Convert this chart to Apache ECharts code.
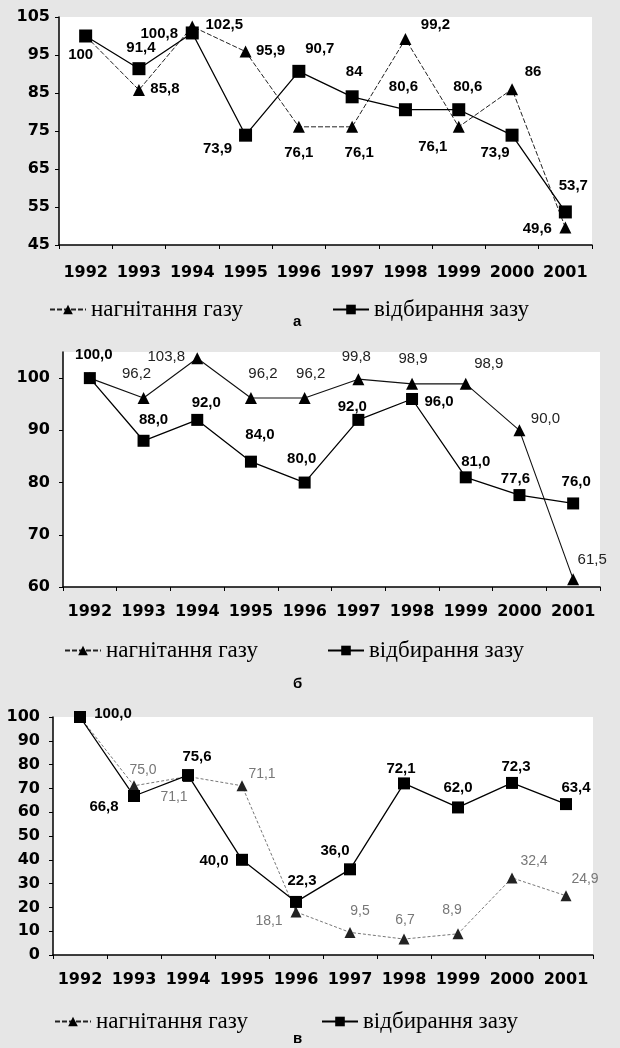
<!DOCTYPE html>
<html>
<head>
<meta charset="utf-8">
<script src="https://cdn.jsdelivr.net/npm/echarts@6/dist/echarts.min.js"></script>
<style>
html, body { margin: 0; padding: 0; background: #e6e6e6; }
#chart { width: 620px; height: 1048px; }
</style>
</head>
<body>
<div id="chart"></div>
<script>
const years = ['1992', '1993', '1994', '1995', '1996', '1997', '1998', '1999', '2000', '2001'];

// а
const injectA = [100, 85.8, 102.5, 95.9, 76.1, 76.1, 99.2, 76.1, 86, 49.6];
const withdrawA = [100, 91.4, 100.8, 73.9, 90.7, 84, 80.6, 80.6, 73.9, 53.7];
// б
const injectB = [100, 96.2, 103.8, 96.2, 96.2, 99.8, 98.9, 98.9, 90.0, 61.5];
const withdrawB = [100, 88.0, 92.0, 84.0, 80.0, 92.0, 96.0, 81.0, 77.6, 76.0];
// в
const injectC = [100, 71.1, 75.0, 71.1, 18.1, 9.5, 6.7, 8.9, 32.4, 24.9];
const withdrawC = [100, 66.8, 75.6, 40.0, 22.3, 36.0, 72.1, 62.0, 72.3, 63.4];

const yTicksA = [45, 55, 65, 75, 85, 95, 105];
const yTicksB = [60, 70, 80, 90, 100];
const yTicksC = [0, 10, 20, 30, 40, 50, 60, 70, 80, 90, 100];

const INJECT = 'нагнітання газу';
const WITHDRAW = 'відбирання зазу';

// where each value label sits relative to its point (null = no label)
const offInjectA = [null, [26, -1], [32, -2], [25, -1], [0, 26], [7, 26], [30, -14], [-26, 20], [21, -17], [-28, 1]];
const offWithdrawA = [[-5, 19], [2, -21], [-33, 1], [-28, 14], [21, -22], [2, -25], [-2, -23], [9, -23], [-17, 18], [8, -26]];
const offInjectB = [null, [-7, -24], [-31, -1], [12, -24], [6, -24], [-2, -22], [1, -25], [23, -20], [26, -11], [19, -19]];
const offWithdrawB = [[4, -23], [10, -21], [9, -17], [9, -27], [-3, -24], [-6, -13], [27, 3], [10, -15], [-4, -16], [3, -22]];
const offInjectC = [null, [40, 11], [-45, -6], [20, -12], [-27, 9], [10, -21], [1, -19], [-6, -24], [22, -17], [19, -17]];
const offWithdrawC = [[33, -3], [-30, 11], [9, -18], [-28, 1], [6, -21], [-15, -18], [-3, -15], [0, -20], [4, -16], [10, -16]];

const plain = (v) => String(v).replace('.', ',');
const oneDec = (v) => v.toFixed(1).replace('.', ',');

function points(values, offsets) {
  return values.map((v, i) => ({
    value: v,
    label: offsets[i] ? { show: true, position: 'inside', offset: offsets[i] } : { show: false },
  }));
}

const labelBold = { fontFamily: 'Liberation Sans', fontWeight: 'bold', fontSize: 15, color: '#000' };

function line(name, idx, values, offsets, fmt, opts) {
  return {
    name: name,
    type: 'line',
    xAxisIndex: idx,
    yAxisIndex: idx,
    data: points(values, offsets),
    symbol: opts.symbol,
    symbolSize: opts.size,
    itemStyle: { color: opts.mark || '#000' },
    lineStyle: { color: opts.color, width: opts.width, type: opts.type || 'solid' },
    label: Object.assign({ formatter: (p) => fmt(p.value) }, labelBold, opts.label || {}),
    emphasis: { disabled: true },
    animation: false,
  };
}

const grids = [
  { left: 59, top: 17, width: 533, height: 228 },
  { left: 63, top: 352, width: 537, height: 235 },
  { left: 53, top: 717, width: 540, height: 238 },
];

const axisFont = { fontFamily: 'DejaVu Sans', fontWeight: 'bold', fontSize: 16, color: '#000' };
const axisLine = { show: true, lineStyle: { color: '#000', width: 1.5 } };

const xAxes = grids.map((g, i) => ({
  type: 'category',
  gridIndex: i,
  data: years,
  boundaryGap: true,
  axisLine: axisLine,
  axisTick: { show: true, length: 4, lineStyle: { color: '#000' } },
  axisLabel: Object.assign({ margin: i === 0 ? 20 : 17, interval: 0 }, axisFont),
}));

function yAxis(i, min, max, ticks, margin) {
  return {
    type: 'value',
    gridIndex: i,
    min: min,
    max: max,
    splitLine: { show: false },
    axisLine: axisLine,
    axisTick: { show: true, length: 4, customValues: ticks, lineStyle: { color: '#000' } },
    axisLabel: Object.assign({ margin: margin, customValues: ticks }, axisFont),
  };
}

function legend(name, left, top) {
  return {
    data: [name],
    left: left,
    top: top,
    itemWidth: 36,
    itemHeight: 12,
    itemGap: 5,
    selectedMode: false,
    textStyle: { fontFamily: 'Liberation Serif', fontSize: 23, color: '#000' },
  };
}

const chart = echarts.init(document.getElementById('chart'), null, { renderer: 'canvas' });
chart.setOption({
  backgroundColor: '#e6e6e6',
  animation: false,
  textStyle: { fontFamily: 'Liberation Sans' },
  grid: grids.map((g) => Object.assign({ show: true, backgroundColor: '#fff', borderWidth: 0 }, g)),
  xAxis: xAxes,
  yAxis: [
    yAxis(0, 45, 105, yTicksA, 9),
    yAxis(1, 60, 105, yTicksB, 13),
    yAxis(2, 0, 100, yTicksC, 13),
  ],
  legend: [
    legend(INJECT, 44, 293),
    legend(WITHDRAW, 327, 293),
    legend(INJECT, 59, 634),
    legend(WITHDRAW, 322, 634),
    legend(INJECT, 49, 1005),
    legend(WITHDRAW, 316, 1005),
  ],
  graphic: [
    { type: 'text', left: 293, top: 314, style: { text: 'а', font: 'bold 15px Liberation Sans', fill: '#000' } },
    { type: 'text', left: 293, top: 676, style: { text: 'б', font: 'bold 15px Liberation Sans', fill: '#000' } },
    { type: 'text', left: 293, top: 1031, style: { text: 'в', font: 'bold 15px Liberation Sans', fill: '#000' } },
  ],
  series: [
    line(INJECT, 0, injectA, offInjectA, plain, { symbol: 'triangle', size: 12, color: '#222', width: 1, type: [5, 2] }),
    line(WITHDRAW, 0, withdrawA, offWithdrawA, plain, { symbol: 'rect', size: 13, color: '#000', width: 1.3 }),
    line(INJECT, 1, injectB, offInjectB, oneDec, {
      symbol: 'triangle', size: 12, color: '#111', width: 1.1,
      label: { fontWeight: 'normal', color: '#222' },
    }),
    line(WITHDRAW, 1, withdrawB, offWithdrawB, oneDec, { symbol: 'rect', size: 12, color: '#000', width: 1.3 }),
    line(INJECT, 2, injectC, offInjectC, oneDec, {
      symbol: 'triangle', size: 11, color: '#777', width: 1, type: [3, 2], mark: '#222',
      label: { fontWeight: 'normal', color: '#777', fontSize: 14 },
    }),
    line(WITHDRAW, 2, withdrawC, offWithdrawC, oneDec, { symbol: 'rect', size: 12, color: '#000', width: 1.3 }),
  ],
});
</script>
</body>
</html>
